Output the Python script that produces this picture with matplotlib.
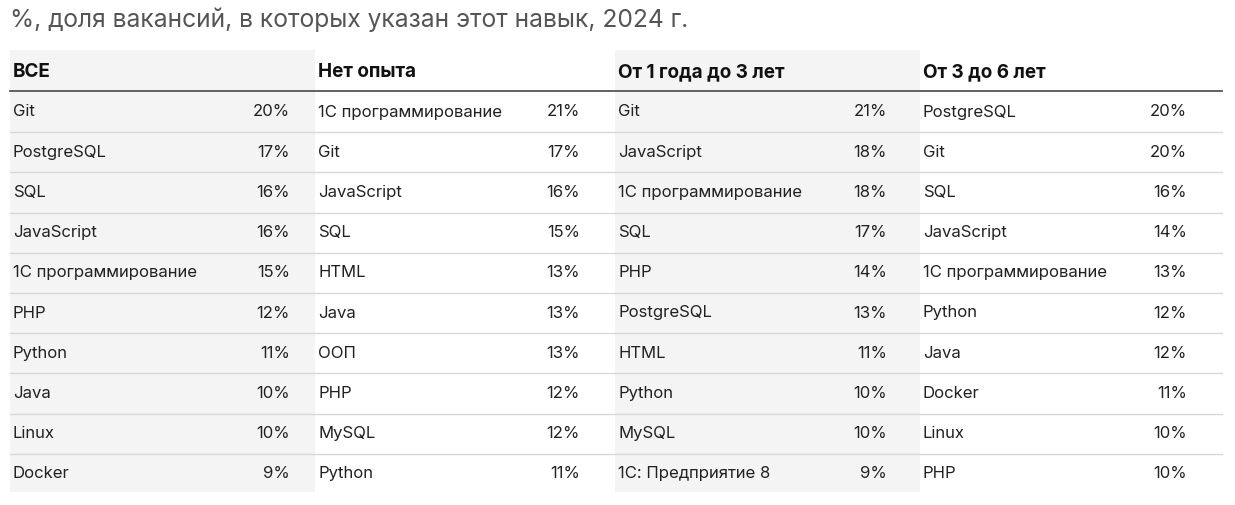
import matplotlib
matplotlib.use("Agg")
import matplotlib.pyplot as plt
from matplotlib.patches import Rectangle

plt.rcParams["font.family"] = ["Inter", "DejaVu Sans"]

title = "%, доля вакансий, в которых указан этот навык, 2024 г."
headers = ["ВСЕ", "Нет опыта", "От 1 года до 3 лет", "От 3 до 6 лет"]
skills_all = ["Git", "PostgreSQL", "SQL", "JavaScript", "1С программирование",
              "PHP", "Python", "Java", "Linux", "Docker"]
values_all = [20, 17, 16, 16, 15, 12, 11, 10, 10, 9]
skills_noexp = ["1С программирование", "Git", "JavaScript", "SQL", "HTML",
                "Java", "ООП", "PHP", "MySQL", "Python"]
values_noexp = [21, 17, 16, 15, 13, 13, 13, 12, 12, 11]
skills_1_3 = ["Git", "JavaScript", "1С программирование", "SQL", "PHP",
              "PostgreSQL", "HTML", "Python", "MySQL", "1С: Предприятие 8"]
values_1_3 = [21, 18, 18, 17, 14, 13, 11, 10, 10, 9]
skills_3_6 = ["PostgreSQL", "Git", "SQL", "JavaScript", "1С программирование",
              "Python", "Java", "Docker", "Linux", "PHP"]
values_3_6 = [20, 20, 16, 14, 13, 12, 12, 11, 10, 10]

columns = [(skills_all, values_all), (skills_noexp, values_noexp),
           (skills_1_3, values_1_3), (skills_3_6, values_3_6)]

W, H = 1235, 505
fig = plt.figure(figsize=(W / 100, H / 100), dpi=100)
ax = fig.add_axes([0, 0, 1, 1])
ax.set_xlim(0, W)
ax.set_ylim(H, 0)
ax.axis("off")

col_left = [10, 315, 615, 920]
col_right = [315, 615, 920, 1222]
val_x = [290, 580, 887, 1187]
row_y0, row_h = 112, 40.2

ax.text(10, 20, title, fontsize=17.7, color="#555555", va="center")

for i, (skills, vals) in enumerate(columns):
    if i % 2 == 0:
        ax.add_patch(Rectangle((col_left[i], 50), col_right[i] - col_left[i], 442,
                               color="#f4f4f4", lw=0, zorder=0))
    ax.text(col_left[i] + 3, 72, headers[i], fontsize=13.6, fontweight="bold",
            color="#111111", va="center")
    for j, (s, v) in enumerate(zip(skills, vals)):
        y = row_y0 + j * row_h
        ax.text(col_left[i] + 3, y, s, fontsize=12, color="#222222", va="center")
        ax.text(val_x[i], y, f"{v}%", fontsize=12, color="#222222",
                va="center", ha="right")

ax.plot([10, 1222], [91, 91], color="#555555", lw=1.3)
for j in range(1, 10):
    y = row_y0 + j * row_h - row_h / 2
    ax.plot([10, 1222], [y, y], color="#d8d8d8", lw=1)

fig.savefig("out.png", dpi=100, facecolor="white")
